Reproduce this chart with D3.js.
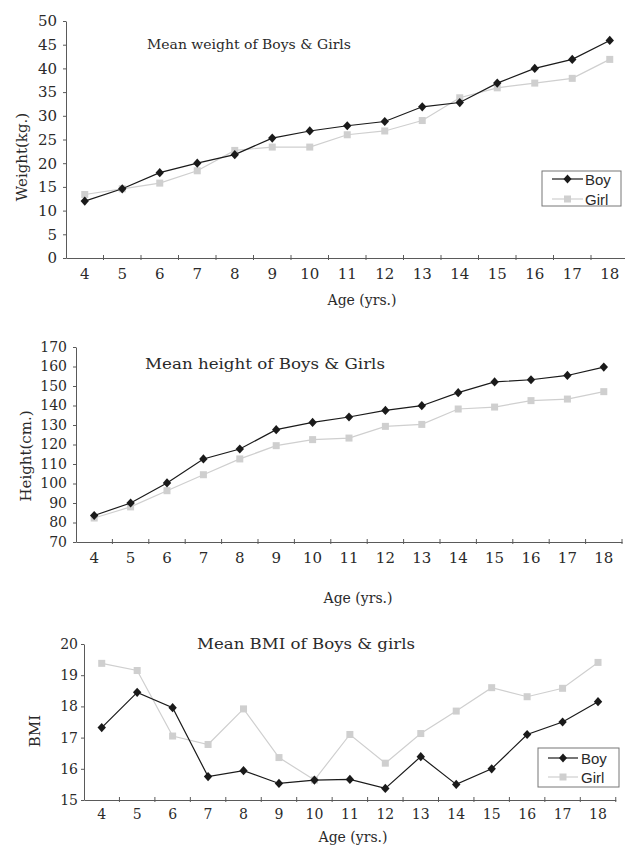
<!DOCTYPE html>
<html><head><meta charset="utf-8">
<script src="https://cdn.jsdelivr.net/npm/d3@7"></script>
<style>body{margin:0;background:#fff}svg{display:block}</style>
</head><body>
<svg id="c" width="625" height="845"></svg>
<script>
const ages = [4,5,6,7,8,9,10,11,12,13,14,15,16,17,18];
const weightBoy  = [12,14.6,18,20,21.8,25.3,26.8,27.9,28.8,31.9,32.8,36.9,40,41.9,45.9];
const weightGirl = [13.4,14.6,15.8,18.4,22.7,23.4,23.4,26,26.8,29,33.8,35.9,36.9,37.9,41.9];
const heightBoy  = [83.6,90,100.3,112.6,117.7,127.6,131.3,134.1,137.5,139.9,146.6,152.1,153.2,155.4,159.7];
const heightGirl = [82.3,88,96.3,104.5,112.6,119.4,122.5,123.3,129.3,130.3,138.2,139.2,142.5,143.3,147.1];
const bmiBoy  = [17.32,18.45,17.96,15.75,15.94,15.53,15.64,15.66,15.37,16.39,15.5,16.0,17.1,17.5,18.15];
const bmiGirl = [19.38,19.15,17.05,16.78,17.92,16.36,15.64,17.1,16.18,17.13,17.85,18.6,18.31,18.58,19.41];
const weightTicks = [0,5,10,15,20,25,30,35,40,45,50];
const heightTicks = [70,80,90,100,110,120,130,140,150,160,170];
const bmiTicks = [15,16,17,18,19,20];
const seriesNames = ["Boy","Girl"];

const svg = d3.select("#c");
const SERIF = "DejaVu Serif";
const boyCol = "#1a1a1a", girlCol = "#cfcfcf", axisCol = "#5a5a5a", textCol = "#2a2a2a";

function diamond(hw, hh){ return `M0,${-hh}L${hw},0L0,${hh}L${-hw},0Z`; }

function chart(cfg){
  const g = svg.append("g");
  const x = d3.scaleBand().domain(ages).range([cfg.x0, cfg.x0 + cfg.step*ages.length]).padding(0);
  const cx = d => x(d) + x.bandwidth()/2;
  const y = d3.scaleLinear().domain(cfg.yDomain).range([cfg.yBottom, cfg.yTop]);

  const ya = g.append("g").attr("transform", `translate(${cfg.x0},0)`)
    .call(d3.axisLeft(y).tickValues(cfg.yTicks).tickFormat(d3.format("d")).tickSize(3).tickPadding(cfg.yPad).tickSizeOuter(0));
  ya.select(".domain").attr("stroke", axisCol);
  ya.selectAll(".tick line").attr("stroke", axisCol);
  ya.selectAll(".tick text").attr("font-family", SERIF).attr("font-size", cfg.yFont).attr("fill", textCol);

  const xa = g.append("g").attr("transform", `translate(0,${cfg.yBottom})`)
    .call(d3.axisBottom(x).tickSize(0).tickPadding(cfg.xPad).tickSizeOuter(0));
  xa.select(".domain").attr("stroke", axisCol);
  xa.selectAll(".tick text").attr("font-family", SERIF).attr("font-size", cfg.xFont).attr("fill", textCol);
  g.append("g").selectAll("line").data(ages.slice(1).concat(["end"])).join("line")
    .attr("x1", d => d === "end" ? x.range()[1] : x(d)).attr("x2", d => d === "end" ? x.range()[1] : x(d))
    .attr("y1", cfg.yBottom - 3).attr("y2", cfg.yBottom + 2).attr("stroke", axisCol);

  const line = vals => d3.line().x((d,i) => cx(ages[i])).y(d => y(d))(vals);
  g.append("path").attr("d", line(cfg.girl)).attr("fill","none").attr("stroke", girlCol).attr("stroke-width", 1.2);
  g.selectAll(".gm").data(cfg.girl).join("rect").attr("class","gm")
    .attr("x", (d,i) => cx(ages[i]) - 3.5).attr("y", d => y(d) - 3.5)
    .attr("width", 7).attr("height", 7).attr("fill", girlCol);
  g.append("path").attr("d", line(cfg.boy)).attr("fill","none").attr("stroke", boyCol).attr("stroke-width", 1.2);
  g.selectAll(".bm").data(cfg.boy).join("path").attr("class","bm")
    .attr("transform", (d,i) => `translate(${cx(ages[i])},${y(d)})`)
    .attr("d", diamond(4.2,4.6)).attr("fill", boyCol);

  g.append("text").attr("x", cfg.title.x).attr("y", cfg.title.y)
    .attr("font-family", SERIF).attr("font-size", cfg.title.size).attr("fill", textCol)
    .attr("textLength", cfg.title.len).attr("lengthAdjust","spacingAndGlyphs")
    .text(cfg.title.text);
  g.append("text").attr("transform", `translate(${cfg.yLab.x},${cfg.yLab.y}) rotate(-90)`)
    .attr("text-anchor","middle").attr("dominant-baseline","central")
    .attr("font-family", SERIF).attr("font-size", 15).attr("fill", textCol).text(cfg.yLab.text);
  g.append("text").attr("x", cfg.xLab.x).attr("y", cfg.xLab.y)
    .attr("text-anchor","middle").attr("dominant-baseline","central")
    .attr("font-family", SERIF).attr("font-size", 14).attr("fill", textCol).text("Age (yrs.)");

  const L = cfg.legend;
  if (!L) return;
  const lg = g.append("g");
  lg.append("rect").attr("x", L.x).attr("y", L.y).attr("width", L.w).attr("height", L.h)
    .attr("fill","#fff").attr("stroke","#777").attr("stroke-width",1);
  seriesNames.forEach((name, i) => {
    const ry = L.y + L.r0 + i*L.dy;
    const col = i === 0 ? boyCol : girlCol;
    lg.append("line").attr("x1", L.lx1).attr("x2", L.lx2).attr("y1", ry).attr("y2", ry).attr("stroke", col).attr("stroke-width",1.2);
    const mx = (L.lx1 + L.lx2)/2;
    if (i === 0) lg.append("path").attr("transform", `translate(${mx},${ry})`).attr("d", diamond(4,4.4)).attr("fill", boyCol);
    else lg.append("rect").attr("x", mx-3.5).attr("y", ry-3.5).attr("width",7).attr("height",7).attr("fill", girlCol);
    lg.append("text").attr("x", L.tx).attr("y", ry).attr("dominant-baseline","central")
      .attr("font-family","Liberation Sans").attr("font-size", 15).attr("fill", textCol).text(name);
  });
}

chart({x0:66, step:37.5, yDomain:[0,50], yTop:21, yBottom:258, yTicks:weightTicks, yFont:15, yPad:6, xFont:15, xPad:10,
  boy:weightBoy, girl:weightGirl,
  title:{x:147, y:49, size:12.5, len:204, text:"Mean weight of Boys & Girls"},
  yLab:{x:22, y:157, text:"Weight(kg.)"}, xLab:{x:362, y:300},
  legend:{x:542, y:171, w:79, h:35, r0:8, dy:20, lx1:552, lx2:583, tx:585}});

chart({x0:76, step:36.4, yDomain:[70,170], yTop:347, yBottom:542, yTicks:heightTicks, yFont:14, yPad:6, xFont:15, xPad:10,
  boy:heightBoy, girl:heightGirl,
  title:{x:145, y:369, size:15, len:240, text:"Mean height of Boys & Girls"},
  yLab:{x:26, y:456, text:"Height(cm.)"}, xLab:{x:358, y:598},
  legend:null});

chart({x0:84, step:35.45, yDomain:[15,20], yTop:644, yBottom:800, yTicks:bmiTicks, yFont:14, yPad:3, xFont:14, xPad:9,
  boy:bmiBoy, girl:bmiGirl,
  title:{x:197, y:649, size:15, len:218, text:"Mean BMI of Boys & girls"},
  yLab:{x:35, y:731, text:"BMI"}, xLab:{x:353, y:837},
  legend:{x:538, y:748, w:81, h:39, r0:10, dy:19, lx1:548, lx2:578, tx:581}});
</script>
</body></html>
